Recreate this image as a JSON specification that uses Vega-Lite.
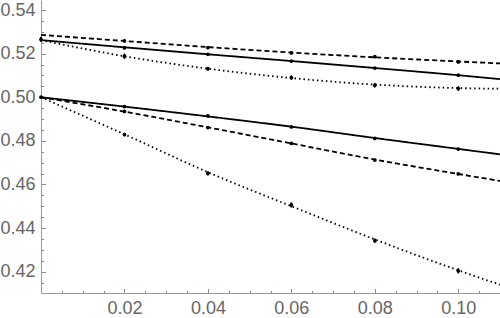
{
  "$schema": "https://vega.github.io/schema/vega-lite/v6.json",
  "width": 459,
  "height": 293,
  "autosize": {"type": "none"},
  "padding": {"left": 41, "top": 0, "right": 0, "bottom": 25},
  "background": "white",
  "config": {
    "view": {"stroke": null},
    "axis": {
      "grid": false,
      "title": null,
      "domainColor": "#999999",
      "domainWidth": 1,
      "tickColor": "#888888",
      "tickWidth": 1,
      "labelColor": "#666666",
      "labelFont": "Liberation Sans",
      "labelFontSize": 18
    }
  },
  "resolve": {"axis": {"x": "independent", "y": "independent"}},
  "datasets": {
    "fits": [
      {"x": 0, "y": 0.5286, "series": "upper-dashed", "dash": "dashed"},
      {"x": 0.02, "y": 0.5258, "series": "upper-dashed", "dash": "dashed"},
      {"x": 0.04, "y": 0.5230, "series": "upper-dashed", "dash": "dashed"},
      {"x": 0.06, "y": 0.5205, "series": "upper-dashed", "dash": "dashed"},
      {"x": 0.08, "y": 0.5183, "series": "upper-dashed", "dash": "dashed"},
      {"x": 0.10, "y": 0.5164, "series": "upper-dashed", "dash": "dashed"},
      {"x": 0.11, "y": 0.5155, "series": "upper-dashed", "dash": "dashed"},
      {"x": 0, "y": 0.5262, "series": "upper-solid", "dash": "solid"},
      {"x": 0.02, "y": 0.5229, "series": "upper-solid", "dash": "solid"},
      {"x": 0.04, "y": 0.5197, "series": "upper-solid", "dash": "solid"},
      {"x": 0.06, "y": 0.5166, "series": "upper-solid", "dash": "solid"},
      {"x": 0.08, "y": 0.5134, "series": "upper-solid", "dash": "solid"},
      {"x": 0.10, "y": 0.5101, "series": "upper-solid", "dash": "solid"},
      {"x": 0.11, "y": 0.5083, "series": "upper-solid", "dash": "solid"},
      {"x": 0, "y": 0.5262, "series": "upper-dotted", "dash": "dotted"},
      {"x": 0.02, "y": 0.5188, "series": "upper-dotted", "dash": "dotted"},
      {"x": 0.04, "y": 0.5131, "series": "upper-dotted", "dash": "dotted"},
      {"x": 0.06, "y": 0.5088, "series": "upper-dotted", "dash": "dotted"},
      {"x": 0.08, "y": 0.5058, "series": "upper-dotted", "dash": "dotted"},
      {"x": 0.10, "y": 0.5042, "series": "upper-dotted", "dash": "dotted"},
      {"x": 0.11, "y": 0.5039, "series": "upper-dotted", "dash": "dotted"},
      {"x": 0, "y": 0.5000, "series": "lower-solid", "dash": "solid"},
      {"x": 0.02, "y": 0.4957, "series": "lower-solid", "dash": "solid"},
      {"x": 0.04, "y": 0.4912, "series": "lower-solid", "dash": "solid"},
      {"x": 0.06, "y": 0.4865, "series": "lower-solid", "dash": "solid"},
      {"x": 0.08, "y": 0.4813, "series": "lower-solid", "dash": "solid"},
      {"x": 0.10, "y": 0.4763, "series": "lower-solid", "dash": "solid"},
      {"x": 0.11, "y": 0.4738, "series": "lower-solid", "dash": "solid"},
      {"x": 0, "y": 0.5000, "series": "lower-dashed", "dash": "dashed"},
      {"x": 0.02, "y": 0.4934, "series": "lower-dashed", "dash": "dashed"},
      {"x": 0.04, "y": 0.4862, "series": "lower-dashed", "dash": "dashed"},
      {"x": 0.06, "y": 0.4788, "series": "lower-dashed", "dash": "dashed"},
      {"x": 0.08, "y": 0.4714, "series": "lower-dashed", "dash": "dashed"},
      {"x": 0.10, "y": 0.4648, "series": "lower-dashed", "dash": "dashed"},
      {"x": 0.11, "y": 0.4616, "series": "lower-dashed", "dash": "dashed"},
      {"x": 0, "y": 0.5000, "series": "lower-dotted", "dash": "dotted"},
      {"x": 0.02, "y": 0.4830, "series": "lower-dotted", "dash": "dotted"},
      {"x": 0.04, "y": 0.4656, "series": "lower-dotted", "dash": "dotted"},
      {"x": 0.06, "y": 0.4500, "series": "lower-dotted", "dash": "dotted"},
      {"x": 0.08, "y": 0.4348, "series": "lower-dotted", "dash": "dotted"},
      {"x": 0.10, "y": 0.4206, "series": "lower-dotted", "dash": "dotted"},
      {"x": 0.11, "y": 0.4140, "series": "lower-dotted", "dash": "dotted"}
    ],
    "points": [
      {"x": 0, "y": 0.5265, "lo": 0.5253, "hi": 0.5277},
      {"x": 0, "y": 0.5000, "lo": 0.4996, "hi": 0.5004},
      {"x": 0.02, "y": 0.5258, "lo": 0.5252, "hi": 0.5264},
      {"x": 0.04, "y": 0.5227, "lo": 0.5221, "hi": 0.5233},
      {"x": 0.06, "y": 0.5203, "lo": 0.5197, "hi": 0.5209},
      {"x": 0.08, "y": 0.5186, "lo": 0.5180, "hi": 0.5192},
      {"x": 0.10, "y": 0.5162, "lo": 0.5156, "hi": 0.5168},
      {"x": 0.02, "y": 0.5226, "lo": 0.5222, "hi": 0.5230},
      {"x": 0.04, "y": 0.5197, "lo": 0.5193, "hi": 0.5201},
      {"x": 0.06, "y": 0.5166, "lo": 0.5162, "hi": 0.5170},
      {"x": 0.08, "y": 0.5134, "lo": 0.5130, "hi": 0.5138},
      {"x": 0.10, "y": 0.5101, "lo": 0.5097, "hi": 0.5105},
      {"x": 0.02, "y": 0.5188, "lo": 0.5176, "hi": 0.5200},
      {"x": 0.04, "y": 0.5131, "lo": 0.5123, "hi": 0.5139},
      {"x": 0.06, "y": 0.5090, "lo": 0.5080, "hi": 0.5100},
      {"x": 0.08, "y": 0.5055, "lo": 0.5045, "hi": 0.5065},
      {"x": 0.10, "y": 0.5040, "lo": 0.5030, "hi": 0.5050},
      {"x": 0.02, "y": 0.4957, "lo": 0.4953, "hi": 0.4961},
      {"x": 0.04, "y": 0.4914, "lo": 0.4910, "hi": 0.4918},
      {"x": 0.06, "y": 0.4864, "lo": 0.4860, "hi": 0.4868},
      {"x": 0.08, "y": 0.4811, "lo": 0.4807, "hi": 0.4815},
      {"x": 0.10, "y": 0.4762, "lo": 0.4758, "hi": 0.4766},
      {"x": 0.02, "y": 0.4935, "lo": 0.4930, "hi": 0.4940},
      {"x": 0.04, "y": 0.4861, "lo": 0.4856, "hi": 0.4866},
      {"x": 0.06, "y": 0.4788, "lo": 0.4783, "hi": 0.4793},
      {"x": 0.08, "y": 0.4712, "lo": 0.4707, "hi": 0.4717},
      {"x": 0.10, "y": 0.4648, "lo": 0.4643, "hi": 0.4653},
      {"x": 0.02, "y": 0.4829, "lo": 0.4821, "hi": 0.4837},
      {"x": 0.04, "y": 0.4651, "lo": 0.4641, "hi": 0.4661},
      {"x": 0.06, "y": 0.4506, "lo": 0.4494, "hi": 0.4518},
      {"x": 0.08, "y": 0.4342, "lo": 0.4332, "hi": 0.4352},
      {"x": 0.10, "y": 0.4204, "lo": 0.4192, "hi": 0.4216}
    ]
  },
  "layer": [
    {
      "data": {"name": "fits"},
      "mark": {"type": "line", "interpolate": "monotone", "color": "black", "strokeWidth": 1.8, "clip": true},
      "encoding": {
        "x": {
          "field": "x", "type": "quantitative",
          "scale": {"domain": [0, 0.11], "nice": false, "zero": false},
          "axis": {
            "orient": "bottom",
            "values": [0.02, 0.04, 0.06, 0.08, 0.1],
            "format": ".2f",
            "tickSize": -4.5,
            "labelPadding": 11
          }
        },
        "y": {
          "field": "y", "type": "quantitative",
          "scale": {"domain": [0.4102, 0.5446], "nice": false, "zero": false},
          "axis": {
            "orient": "left",
            "values": [0.42, 0.44, 0.46, 0.48, 0.5, 0.52, 0.54],
            "format": ".2f",
            "tickSize": -4.5,
            "labelPadding": 10.5
          }
        },
        "detail": {"field": "series"},
        "strokeDash": {
          "field": "dash", "type": "nominal",
          "scale": {"domain": ["solid", "dashed", "dotted"], "range": [[1, 0], [5, 3], [1.5, 3]]},
          "legend": null
        }
      }
    },
    {
      "data": {"name": "points"},
      "mark": {"type": "rule", "color": "black", "strokeWidth": 1.6},
      "encoding": {
        "x": {
          "field": "x", "type": "quantitative",
          "axis": {
            "orient": "bottom",
            "values": [0.005, 0.01, 0.015, 0.025, 0.03, 0.035, 0.045, 0.05, 0.055, 0.065, 0.07, 0.075, 0.085, 0.09, 0.095, 0.105, 0.11],
            "labels": false,
            "domain": false,
            "tickSize": -2.5
          }
        },
        "y": {
          "field": "lo", "type": "quantitative",
          "axis": {
            "orient": "left",
            "values": [0.415, 0.425, 0.43, 0.435, 0.445, 0.45, 0.455, 0.465, 0.47, 0.475, 0.485, 0.49, 0.495, 0.505, 0.51, 0.515, 0.525, 0.53, 0.535],
            "labels": false,
            "domain": false,
            "tickSize": -2.5
          }
        },
        "y2": {"field": "hi"}
      }
    },
    {
      "data": {"name": "points"},
      "mark": {"type": "circle", "color": "black", "opacity": 1, "size": 14},
      "encoding": {
        "x": {"field": "x", "type": "quantitative", "axis": null},
        "y": {"field": "y", "type": "quantitative", "axis": null}
      }
    }
  ]
}
